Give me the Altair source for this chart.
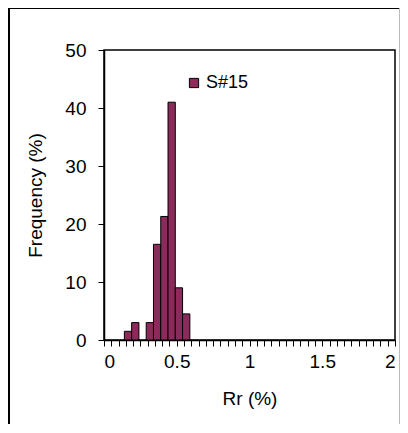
import altair as alt
import pandas as pd

bin_start = [0.14, 0.19, 0.24, 0.29, 0.34, 0.39, 0.44, 0.49, 0.54]
bin_end = [0.19, 0.24, 0.29, 0.34, 0.39, 0.44, 0.49, 0.54, 0.59]
freq = [1.5, 3.0, 0.0, 3.0, 16.5, 21.3, 41.0, 9.0, 4.5]
series = ["S#15"] * len(freq)

x_ticks = [round(i * 0.05, 2) for i in range(41)]
y_ticks = [0, 10, 20, 30, 40, 50]

df = pd.DataFrame({"start": bin_start, "end": bin_end, "freq": freq, "series": series})

FONT = "Liberation Sans"
BAR = "#8b2b5b"

bars = alt.Chart(df).transform_filter("datum.freq > 0").mark_bar(
    stroke="black", strokeWidth=1, opacity=1
).encode(
    x=alt.X("start:Q", scale=alt.Scale(domain=[0, 2], nice=False, zero=True),
            axis=alt.Axis(values=x_ticks, title="Rr (%)",
                          labelExpr="abs(round(datum.value*2) - datum.value*2) < 0.01 ? datum.label : ''",
                          format="~g", grid=False, tickSize=6, labelPadding=6,
                          titlePadding=18, labelFontSize=19, titleFontSize=19)),
    x2="end:Q",
    y=alt.Y("freq:Q", scale=alt.Scale(domain=[0, 50], nice=False),
            axis=alt.Axis(values=y_ticks, title="Frequency (%)", grid=False,
                          tickSize=6, labelPadding=12, titlePadding=19,
                          labelFontSize=19, titleFontSize=19)),
    y2=alt.datum(0),
    color=alt.Color("series:N", scale=alt.Scale(range=[BAR]),
                    legend=alt.Legend(title=None, orient="none", legendX=81, legendY=24,
                                      symbolType="square", symbolSize=85,
                                      symbolStrokeColor="black", symbolStrokeWidth=1,
                                      labelOffset=3,
                                      labelFontSize=18, labelFont=FONT, labelColor="black")),
)

frame_left = alt.Chart(df).mark_rule(color="black", strokeWidth=1).encode(
    x=alt.value(-95), y=alt.value(-42), y2=alt.value(420))
frame_top = alt.Chart(df).mark_rule(color="black", strokeWidth=1).encode(
    x=alt.value(-95), x2=alt.value(296), y=alt.value(-41.5))
frame_right = alt.Chart(df).mark_rule(color="#bbbbbb", strokeWidth=1).encode(
    x=alt.value(295.5), y=alt.value(-42), y2=alt.value(420))

chart = alt.layer(bars, frame_left, frame_top, frame_right).properties(
    width=291, height=290,
    autosize=alt.AutoSizeParams(type="none"),
    padding={"left": 96, "top": 42, "right": 5, "bottom": 84},
).configure_view(stroke="black", strokeWidth=1.5).configure_axis(
    labelFont=FONT, titleFont=FONT, labelColor="black", titleColor="black",
    domainColor="black", tickColor="black", titleFontWeight="normal",
    domainWidth=1.5, tickWidth=1,
)

chart.save("out.html", embed_options={"renderer": "svg", "actions": False})
